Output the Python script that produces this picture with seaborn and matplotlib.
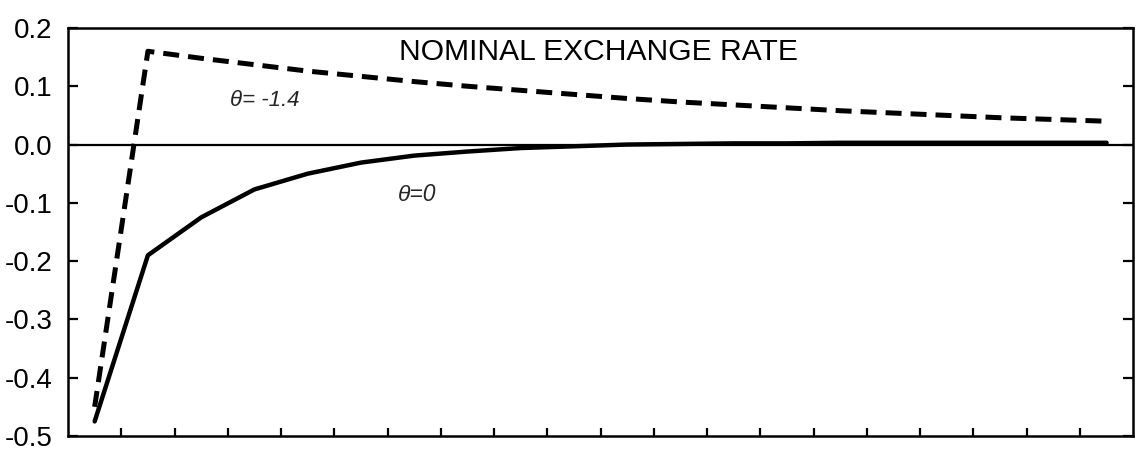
import matplotlib
matplotlib.use("Agg")
import matplotlib.pyplot as plt
import numpy as np
import pandas as pd
import seaborn as sns

# Periods (plotted at the middle of each tick interval)
periods = [0.5, 1.5, 2.5, 3.5, 4.5, 5.5, 6.5, 7.5, 8.5, 9.5,
           10.5, 11.5, 12.5, 13.5, 14.5, 15.5, 16.5, 17.5, 18.5, 19.5]

# Response of the nominal exchange rate, theta = 0
theta_0 = [-0.475, -0.19, -0.125, -0.077, -0.05, -0.031, -0.019, -0.012, -0.006, -0.003,
           0.0, 0.001, 0.002, 0.002, 0.003, 0.003, 0.003, 0.003, 0.003, 0.003]

# Response of the nominal exchange rate, theta = -1.4
theta_m14 = [-0.45, 0.16, 0.148, 0.137, 0.126, 0.117, 0.108, 0.10, 0.093, 0.086,
             0.079, 0.073, 0.068, 0.063, 0.058, 0.054, 0.050, 0.046, 0.043, 0.04]

y_ticks = [-0.5, -0.4, -0.3, -0.2, -0.1, 0.0, 0.1, 0.2]
y_tick_labels = ["-0.5", "-0.4", "-0.3", "-0.2", "-0.1", "0.0", "0.1", "0.2"]
x_ticks = list(range(1, 20))

title_text = "NOMINAL EXCHANGE RATE"
label_m14 = "\u03b8= -1.4"
label_0 = "\u03b8=0"

sns.set_style("ticks")
plt.rcParams["font.family"] = ["Liberation Sans", "DejaVu Sans"]
plt.rcParams["axes.unicode_minus"] = False

df = pd.DataFrame({
    "period": periods * 2,
    "value": theta_0 + theta_m14,
    "theta": ["0"] * len(periods) + ["-1.4"] * len(periods),
})

fig = plt.figure(figsize=(11.47, 4.51), dpi=100)
ax = fig.add_axes([0.0593, 0.0333, 0.9287, 0.9047])

ax.axhline(0.0, color="black", lw=1.6, zorder=1)

sns.lineplot(data=df[df.theta == "0"], x="period", y="value", ax=ax,
             color="black", lw=3.2, legend=False, zorder=3)
sns.lineplot(data=df[df.theta == "-1.4"], x="period", y="value", ax=ax,
             color="black", lw=3.6, legend=False, zorder=3)
ax.lines[-1].set_dashes((3.2, 1.8))

ax.set_xlim(0, 20)
ax.set_ylim(-0.5, 0.2)
ax.set_xticks(x_ticks)
ax.set_xticklabels([])
ax.set_yticks(y_ticks)
ax.set_yticklabels(y_tick_labels, fontsize=20)
ax.set_xlabel("")
ax.set_ylabel("")

ax.tick_params(axis="both", direction="in", length=7, width=1.6, colors="black",
               right=True, top=False)
ax.tick_params(axis="x", length=6)
ax.tick_params(axis="y", pad=11)
for side in ["left", "right", "top", "bottom"]:
    ax.spines[side].set_visible(True)
    ax.spines[side].set_linewidth(1.8)
    ax.spines[side].set_color("black")

ax.text(9.95, 0.158, title_text, fontsize=21.6, ha="center", va="center", color="black")
ax.text(3.05, 0.076, label_m14, fontsize=16, style="italic", ha="left", va="center")
ax.text(6.2, -0.086, label_0, fontsize=16.5, style="italic", ha="left", va="center")

fig.savefig("out.png", dpi=100)
